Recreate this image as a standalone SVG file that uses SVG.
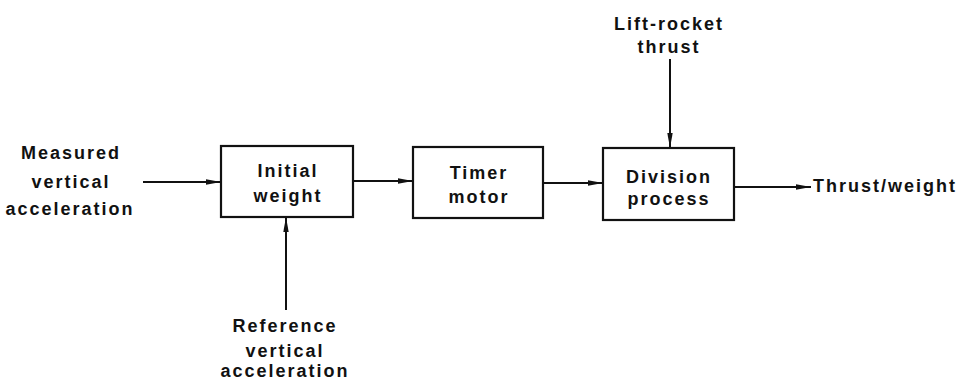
<svg xmlns="http://www.w3.org/2000/svg" width="964" height="382" viewBox="0 0 964 382">
<defs>
<marker id="ah" markerWidth="15" markerHeight="7" refX="15" refY="3.5" orient="auto" markerUnits="userSpaceOnUse">
<path d="M0,0.8 L15,3.5 L0,6.2 Z" fill="#111"/>
</marker>
<style>
text{font-family:"Liberation Sans",Arial,sans-serif;font-weight:bold;font-size:18px;letter-spacing:2px;fill:#111;text-anchor:middle}
.box{fill:#fff;stroke:#111;stroke-width:2.2}
.wire{fill:none;stroke:#111;stroke-width:2;marker-end:url(#ah)}
</style>
</defs>
<rect width="964" height="382" fill="#fff"/>
<g id="connectors">
<line class="wire" x1="143" y1="182" x2="221" y2="182"/>
<line class="wire" x1="353" y1="181" x2="413" y2="181"/>
<line class="wire" x1="543" y1="183" x2="603" y2="183"/>
<line class="wire" x1="734" y1="187" x2="811" y2="187"/>
<line class="wire" x1="286" y1="310" x2="286" y2="217"/>
<line class="wire" x1="670" y1="59" x2="670" y2="148"/>
</g>
<g id="in-measured">
<text x="71" y="159">Measured</text>
<text x="71" y="188">vertical</text>
<text x="70" y="215">acceleration</text>
</g>
<g id="initial-weight">
<rect class="box" x="221" y="146" width="132" height="71"/>
<text x="288" y="177">Initial</text>
<text x="288" y="202">weight</text>
</g>
<g id="timer-motor">
<rect class="box" x="413" y="147" width="130" height="71"/>
<text x="479" y="179">Timer</text>
<text x="479" y="203">motor</text>
</g>
<g id="division-process">
<rect class="box" x="603" y="148" width="131" height="72"/>
<text x="669" y="183">Division</text>
<text x="669" y="205">process</text>
</g>
<g id="lift-rocket">
<text x="669" y="30">Lift-rocket</text>
<text x="669" y="53">thrust</text>
</g>
<g id="out-thrust">
<text x="885" y="192">Thrust/weight</text>
</g>
<g id="ref-accel">
<text x="285" y="332">Reference</text>
<text x="285" y="357">vertical</text>
<text x="285" y="377">acceleration</text>
</g>
</svg>
